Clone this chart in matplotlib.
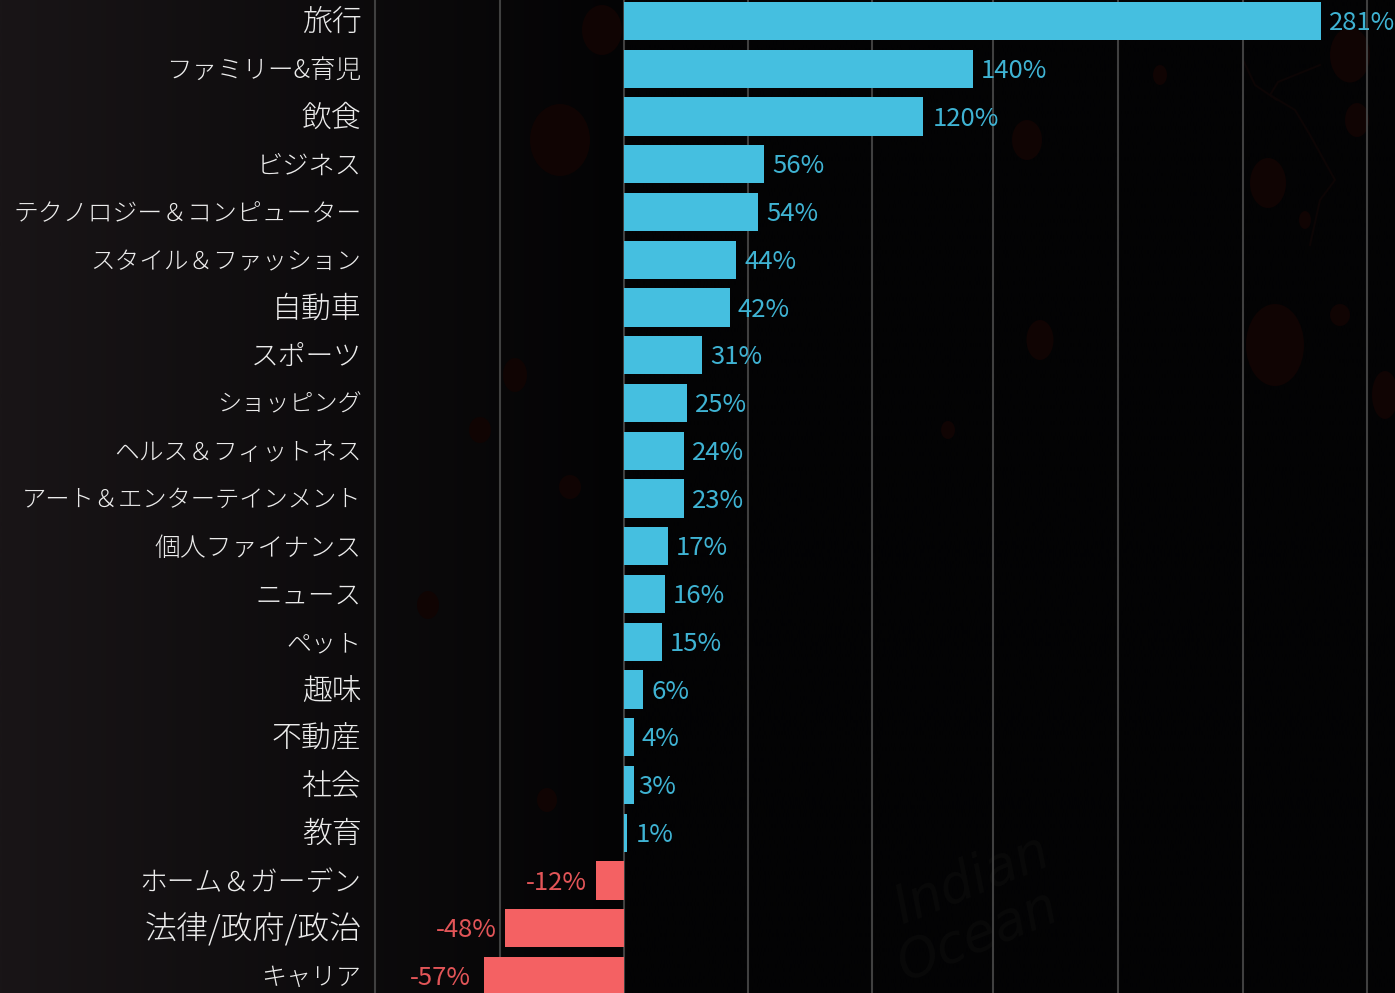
import numpy as np
import matplotlib
matplotlib.use("Agg")
import matplotlib.pyplot as plt
from matplotlib.patches import Ellipse

# category labels, top to bottom
categories = ["旅行", "ファミリー&育児", "飲食", "ビジネス", "テクノロジー＆コンピューター",
              "スタイル＆ファッション", "自動車", "スポーツ", "ショッピング", "ヘルス＆フィットネス",
              "アート＆エンターテインメント", "個人ファイナンス", "ニュース", "ペット", "趣味",
              "不動産", "社会", "教育", "ホーム＆ガーデン", "法律/政府/政治", "キャリア"]
# bar lengths (%)
values = [281.4, 141, 120.9, 56.6, 54.4, 45.4, 42.9, 31.6, 25.5, 24.3, 24.3, 17.9, 16.7, 15.5, 7.8, 4.2, 4.1, 1.6,
          -11, -47.6, -56.2]
# printed labels
value_labels = ["281%", "140%", "120%", "56%", "54%", "44%", "42%", "31%", "25%", "24%", "23%", "17%",
                "16%", "15%", "6%", "4%", "3%", "1%", "-12%", "-48%", "-57%"]
grid_ticks = [-100, -50, 0, 50, 100, 149, 199.3, 249.7, 299.7]
# font size per label, kana labels are set tighter in the original
label_sizes = [21.5, 18.4, 21.5, 18.9, 17.9, 17.7, 21.5, 20, 17.4, 17.8, 17.5, 18.6, 19.1, 18, 21.5, 21.5, 21.5, 21.5, 20, 23, 18]
# gap between bar end and value label, pixels
label_pads = [8, 8, 9, 8, 8, 8, 8, 8, 8, 8, 8, 8, 8, 8, 9, 8, 5, 8, 9, 9, 13]

FONT = ["Noto Sans CJK JP", "DejaVu Sans"]
W, H = 1395, 993
BLUE, RED = "#45bfe0", "#f46163"
BLUE_TXT, RED_TXT = "#3fb3d3", "#e25558"

fig = plt.figure(figsize=(W / 100, H / 100), dpi=100)

# backdrop: dark gradient, lighter on the left
bg = fig.add_axes([0, 0, 1, 1], zorder=0)
shade = np.clip(1 - np.linspace(0, 1, 400) / 0.45, 0, 1)
img = np.zeros((1, 400, 3))
img[0, :, 0] = 3 + 22 * shade
img[0, :, 1] = 3 + 18 * shade
img[0, :, 2] = 4 + 19 * shade
bg.imshow(img / 255, extent=[0, W, H, 0], aspect="auto", interpolation="bilinear")
# faint blobs and coast lines of the map behind the chart
for x, y, w, h in [(1027, 140, 30, 40), (1040, 340, 27, 40), (1268, 183, 36, 50), (1275, 345, 58, 82),
                   (560, 140, 60, 72), (602, 30, 40, 50), (1160, 75, 14, 20), (1357, 120, 24, 34),
                   (1350, 55, 40, 55), (1305, 220, 12, 18), (515, 375, 24, 34), (480, 430, 22, 26),
                   (570, 487, 22, 24), (948, 430, 14, 18), (547, 800, 20, 24), (428, 605, 22, 28),
                   (1385, 395, 26, 48), (1340, 315, 20, 22)]:
    bg.add_patch(Ellipse((x, y), w, h, color="#100403", lw=0))
bg.plot([1320, 1278, 1270, 1295, 1310, 1335, 1320, 1310], [65, 82, 95, 110, 135, 180, 200, 245], color="#0c0505", lw=1.5)
bg.plot([1243, 1255, 1277], [60, 85, 100], color="#0c0505", lw=1.5)
bg.text(972, 880, "Indian", color="#090909", fontsize=38, style="italic", rotation=22, ha="center", va="center")
bg.text(978, 935, "Ocean", color="#090909", fontsize=38, style="italic", rotation=22, ha="center", va="center")
bg.set_xlim(0, W)
bg.set_ylim(H, 0)
bg.axis("off")

# axes box spans the -100..300 gridlines, full height
ax = fig.add_axes([375.5 / W, 0, 992 / W, 1], zorder=1)
ax.patch.set_alpha(0)
y = np.arange(len(categories))
colors = [BLUE if v >= 0 else RED for v in values]
ax.vlines(grid_ticks, 0, 1, transform=ax.get_xaxis_transform(), color="#404040", lw=1.5, zorder=1, clip_on=False)
ax.barh(y, values, height=0.8, color=colors, zorder=2)
ax.set_xlim(-100, 300)
ax.set_ylim(20.356, -0.44)
ax.axis("off")

for i, (v, lab, cat, size, pad) in enumerate(zip(values, value_labels, categories, label_sizes, label_pads)):
    if v >= 0:
        ax.annotate(lab, (v, i), xytext=(pad, -2), textcoords="offset pixels", ha="left", va="center",
                    color=BLUE_TXT, fontsize=18.5, family=FONT, annotation_clip=False)
    else:
        ax.annotate(lab, (v, i), xytext=(-pad, -2), textcoords="offset pixels", ha="right", va="center",
                    color=RED_TXT, fontsize=18.5, family=FONT, annotation_clip=False)
    ax.annotate(cat, (-100, i), xytext=(-14, -2), textcoords="offset pixels", ha="right", va="center",
                color="#ececec", fontsize=size, family=FONT, weight="light", annotation_clip=False)

fig.savefig("out.png", dpi=100, facecolor="#050505")
